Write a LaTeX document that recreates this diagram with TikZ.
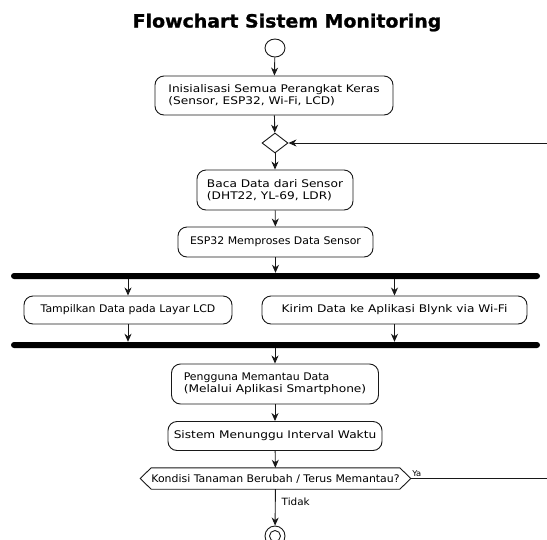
\documentclass[tikz,border=0pt]{standalone}
\usepackage{fontspec}
\setmainfont{DejaVu Sans}[FakeStretch=1.16]
\newfontfamily\narrowfont{DejaVu Sans}[FakeStretch=1.04]
\newfontfamily\titlefont{DejaVu Sans}[FakeStretch=1.04, FakeBold=1.2]
\usetikzlibrary{shapes.geometric,arrows.meta,calc}
\definecolor{ln}{HTML}{181818}
\begin{document}
\begin{tikzpicture}[x=1pt,y=-1pt,
  line/.style={draw=ln, line width=0.9pt},
  arr/.style={line, -{Stealth[length=8pt,width=7pt,inset=2.5pt]}},
  act/.style={draw=ln, line width=0.9pt, rounded corners=9pt, fill=white, inner sep=0pt,
    font=\fontsize{10.5}{12}\selectfont, align=center},
  twoline/.style={act, align=left},
  narrowtxt/.style={font=\fontsize{10.5}{12}\narrowfont},
  bar/.style={fill=black, draw=none, rounded corners=3pt, inner sep=0pt,
    minimum width=529pt, minimum height=6pt},
  startnode/.style={draw=ln, line width=0.9pt, ellipse, inner sep=0pt, minimum width=20pt, minimum height=18pt},
  dec/.style={draw=ln, line width=0.9pt, diamond, inner sep=0pt, minimum width=26pt, minimum height=20pt},
  hexnode/.style={inner sep=0pt, minimum width=245pt, minimum height=21pt, font=\fontsize{10.5}{12}\narrowfont},
  lbl/.style={inner sep=0pt, font=\fontsize{10}{12}\narrowfont}
]
\useasboundingbox (0,0) rectangle (547,539);
\node[anchor=base, inner sep=0pt, font=\fontsize{18.2}{20}\titlefont\bfseries] (title) at (287,27.5) {Flowchart Sistem Monitoring};

\node[startnode] (start) at (275,48) {};
\node[twoline, minimum width=238pt, minimum height=39pt] (b1) at (274,95.5)
  {Inisialisasi Semua Perangkat Keras\\(Sensor, ESP32, Wi-Fi, LCD)};
\node[dec] (d1) at (275,143) {};
\node[twoline, minimum width=156pt, minimum height=40pt] (b2) at (275,190)
  {Baca Data dari Sensor\\(DHT22, YL-69, LDR)};
\node[act, narrowtxt, minimum width=195pt, minimum height=30pt] (b3) at (275.5,242)
  {ESP32 Memproses Data Sensor};
\node[bar] (bar1) at (275.5,276) {};
\node[act, narrowtxt, minimum width=208pt, minimum height=28pt] (bl) at (128,310)
  {Tampilkan Data pada Layar LCD};
\node[act, minimum width=265pt, minimum height=28pt] (br) at (394.5,310)
  {Kirim Data ke Aplikasi Blynk via Wi-Fi};
\node[bar] (bar2) at (275.5,345) {};
\node[twoline, minimum width=207pt, minimum height=40pt] (b4) at (275,384)
  {{\narrowfont Pengguna Memantau Data}\\(Melalui Aplikasi Smartphone)};
\node[act, minimum width=214pt, minimum height=29pt] (b5) at (275,436)
  {Sistem Menunggu Interval Waktu};
\node[hexnode] (hx) at (275.5,478.5) {Kondisi Tanaman Berubah / Terus Memantau?};
\coordinate (hxL) at ($(hx.west)+(-11,0)$);
\coordinate (hxR) at ($(hx.east)+(11,0)$);
\draw[line] (hx.north west) -- (hx.north east) -- (hxR) -- (hx.south east)
  -- (hx.south west) -- (hxL) -- cycle;
\node[draw=ln, line width=0.9pt, circle, inner sep=0pt, minimum size=20pt] (end) at (275,536) {};
\node[draw=ln, line width=0.9pt, circle, inner sep=0pt, minimum size=11pt] (endin) at (end.center) {};

\coordinate (loopin) at (547,143);
\coordinate (yaout) at (547,478.5);

\draw[arr] (start) -- (b1);
\draw[arr] (b1) -- (d1);
\draw[arr] (loopin) -- (d1.east);
\draw[arr] (d1) -- (b2);
\draw[arr] (b2) -- (b3);
\draw[arr] (b3) -- (b3.south |- bar1.north);
\draw[arr] (bar1.south -| bl.north) -- (bl.north);
\draw[arr] (bar1.south -| br.north) -- (br.north);
\draw[arr] (bl.south) -- (bl.south |- bar2.north);
\draw[arr] (br.south) -- (br.south |- bar2.north);
\draw[arr] (bar2.south -| b4.north) -- (b4.north);
\draw[arr] (b4) -- (b5);
\draw[arr] (b5) -- (hx);
\draw[arr] (hx) -- node[lbl, right=6pt, pos=0.35] (tidak) {Tidak} (end);
\draw[line] (hxR) -- node[inner sep=0pt, font=\fontsize{8}{9}\narrowfont, anchor=south west, pos=0, xshift=1pt, yshift=1pt] (ya) {Ya} (yaout);
\end{tikzpicture}
\end{document}
